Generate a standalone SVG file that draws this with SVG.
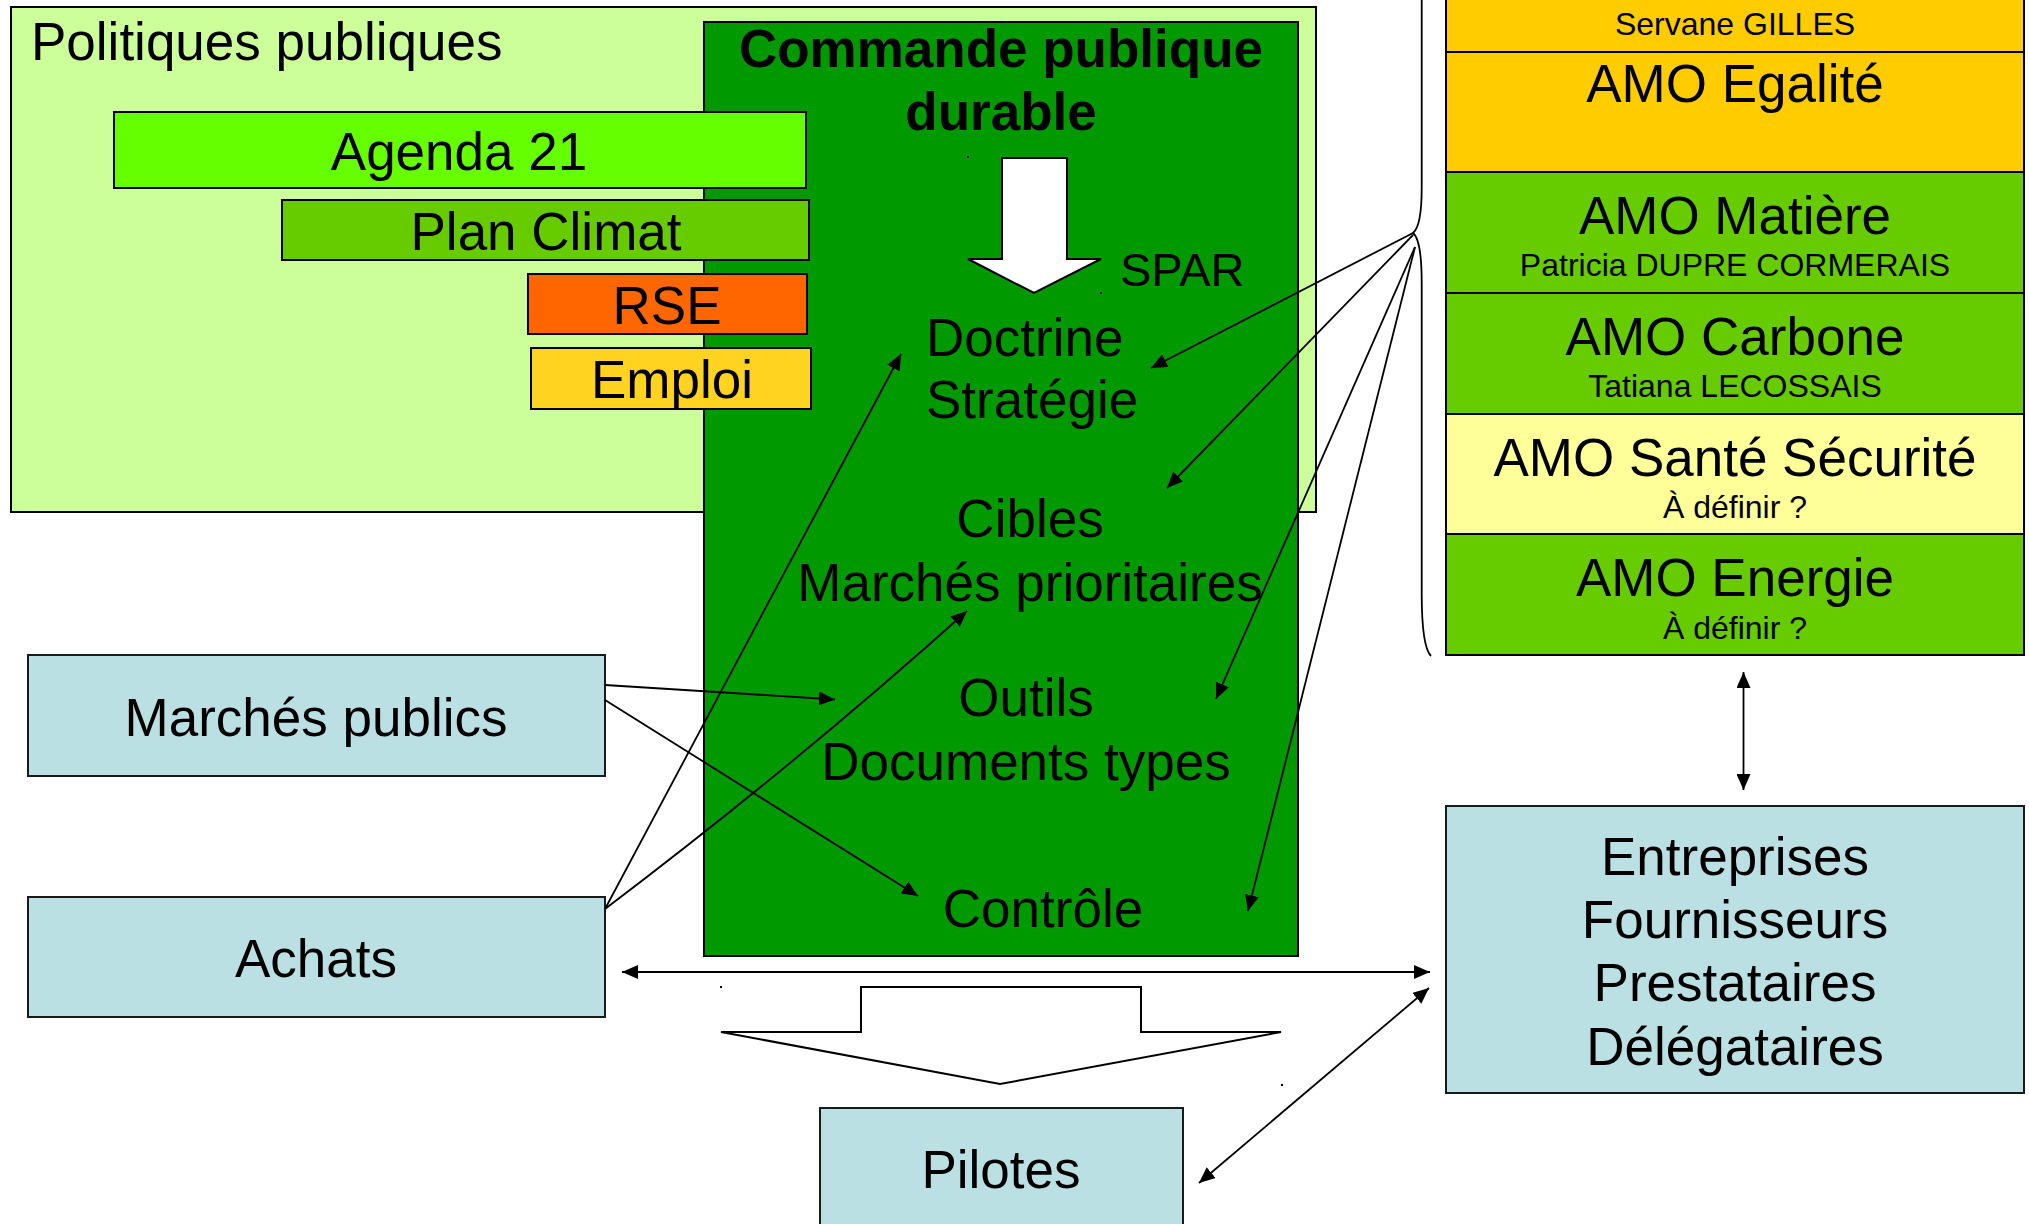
<svg xmlns="http://www.w3.org/2000/svg" width="2029" height="1224" viewBox="0 0 2029 1224">
<style>
text{font-family:"Liberation Sans",Arial,sans-serif;fill:#000}
.t52{font-size:53px}
.t45{font-size:47px}
.t32{font-size:32px}
.c{text-anchor:middle}
.b{font-weight:bold}
.box{stroke:#000;stroke-width:2}
.blue{fill:#BBE0E3;stroke:#1a1a1a;stroke-width:2}
.con{fill:none;stroke:#000;stroke-width:1.8}
</style>
<defs>
<marker id="ah" viewBox="0 0 16 14" refX="16" refY="7" markerWidth="16" markerHeight="14" markerUnits="userSpaceOnUse" orient="auto-start-reverse">
<path d="M0,0 L16,7 L0,14 z" fill="#000"/>
</marker>
</defs>
<rect width="2029" height="1224" fill="#fff"/>

<g id="politiques">
<rect class="box" x="11" y="7" width="1305" height="505" fill="#CCFF99"/>
<text class="t52" x="31" y="60">Politiques publiques</text>
</g>

<g id="commande">
<rect class="box" x="704" y="22" width="594" height="934" fill="#009900"/>
<text class="t52 c b" x="1001" y="67">Commande publique</text>
<text class="t52 c b" x="1001" y="130">durable</text>
<polygon points="1002,158 1067,158 1067,259 1101,259 1034,293 968,259 1002,259" fill="#fff" stroke="#000" stroke-width="2"/>
<text class="t45" x="1120" y="286">SPAR</text>
<text class="t52" x="926" y="356">Doctrine</text>
<text class="t52" x="926" y="418">Stratégie</text>
<text class="t52 c" x="1030" y="537">Cibles</text>
<text class="t52 c" x="1030" y="601">Marchés prioritaires</text>
<text class="t52 c" x="1026" y="716">Outils</text>
<text class="t52 c" x="1026" y="780">Documents types</text>
<text class="t52 c" x="1043" y="927">Contrôle</text>
<rect x="967" y="156" width="2" height="2" fill="#000"/>
<rect x="1100" y="292" width="2" height="2" fill="#000"/>
</g>

<g id="agenda21">
<rect class="box" x="114" y="112" width="692" height="76" fill="#66FF00"/>
<text class="t52 c" x="459" y="170">Agenda 21</text>
</g>
<g id="plan-climat">
<rect class="box" x="282" y="200" width="527" height="60" fill="#66CC00"/>
<text class="t52 c" x="546" y="250">Plan Climat</text>
</g>
<g id="rse">
<rect class="box" x="528" y="274" width="279" height="60" fill="#FF6600"/>
<text class="t52 c" x="667" y="324">RSE</text>
</g>
<g id="emploi">
<rect class="box" x="531" y="348" width="280" height="61" fill="#FFD320"/>
<text class="t52 c" x="672" y="398">Emploi</text>
</g>

<g id="marches-publics">
<rect class="blue" x="28" y="655" width="577" height="121"/>
<text class="t52 c" x="316" y="736">Marchés publics</text>
</g>
<g id="achats">
<rect class="blue" x="28" y="897" width="577" height="120"/>
<text class="t52 c" x="316" y="977">Achats</text>
</g>
<g id="pilotes">
<rect class="blue" x="820" y="1108" width="363" height="130"/>
<text class="t52 c" x="1001" y="1188">Pilotes</text>
</g>
<g id="entreprises">
<rect class="blue" x="1446" y="806" width="578" height="287"/>
<text class="t52 c" x="1735" y="875">Entreprises</text>
<text class="t52 c" x="1735" y="938">Fournisseurs</text>
<text class="t52 c" x="1735" y="1001">Prestataires</text>
<text class="t52 c" x="1735" y="1065">Délégataires</text>
</g>

<g id="amo">
<g id="amo-servane">
<rect class="box" x="1446" y="-10" width="578" height="62" fill="#FFCC00"/>
<text class="t32 c" x="1735" y="35">Servane GILLES</text>
</g>
<g id="amo-egalite">
<rect class="box" x="1446" y="52" width="578" height="120" fill="#FFCC00"/>
<text class="t52 c" x="1735" y="102">AMO Egalité</text>
</g>
<g id="amo-matiere">
<rect class="box" x="1446" y="172" width="578" height="121" fill="#66CC00"/>
<text class="t52 c" x="1735" y="234">AMO Matière</text>
<text class="t32 c" x="1735" y="276">Patricia DUPRE CORMERAIS</text>
</g>
<g id="amo-carbone">
<rect class="box" x="1446" y="293" width="578" height="121" fill="#66CC00"/>
<text class="t52 c" x="1735" y="355">AMO Carbone</text>
<text class="t32 c" x="1735" y="397">Tatiana LECOSSAIS</text>
</g>
<g id="amo-sante">
<rect class="box" x="1446" y="414" width="578" height="120" fill="#FFFF99"/>
<text class="t52 c" x="1735" y="476">AMO Santé Sécurité</text>
<text class="t32 c" x="1735" y="518">À définir ?</text>
</g>
<g id="amo-energie">
<rect class="box" x="1446" y="534" width="578" height="121" fill="#66CC00"/>
<text class="t52 c" x="1735" y="596">AMO Energie</text>
<text class="t32 c" x="1735" y="639">À définir ?</text>
</g>
</g>

<g id="fleche-pilotes">
<polygon points="861,987 1141,987 1141,1032 1281,1032 1000,1084 721,1032 861,1032" fill="#fff" stroke="#000" stroke-width="2"/>
<rect x="720" y="986" width="2" height="2" fill="#000"/>
<rect x="1281" y="1084" width="2" height="2" fill="#000"/>
</g>

<g id="connectors">
<path class="con" d="M1421.7,-10 L1421.7,188 C1421.7,215 1418,229 1413,233 C1418,237 1421.7,252 1421.7,283 L1421.7,593 C1421.7,628 1425,650 1431,656"/>
<path class="con" d="M605,685 L835,699.5" marker-end="url(#ah)"/>
<path class="con" d="M605,700 L918,896" marker-end="url(#ah)"/>
<path class="con" d="M605,909 L901,354" marker-end="url(#ah)"/>
<path class="con" d="M605,909 Q794,766 967,611" marker-end="url(#ah)"/>
<path class="con" d="M1413,233 L1151,368" marker-end="url(#ah)"/>
<path class="con" d="M1413,235 L1167,488" marker-end="url(#ah)"/>
<path class="con" d="M1415,247 L1216,699" marker-end="url(#ah)"/>
<path class="con" d="M1415,247 L1248,911" marker-end="url(#ah)"/>
<path class="con" d="M622,972 L1430,972" marker-start="url(#ah)" marker-end="url(#ah)"/>
<path class="con" d="M1743.5,672 L1743.5,790" marker-start="url(#ah)" marker-end="url(#ah)"/>
<path class="con" d="M1199,1183 L1429,988" marker-start="url(#ah)" marker-end="url(#ah)"/>
</g>
</svg>
